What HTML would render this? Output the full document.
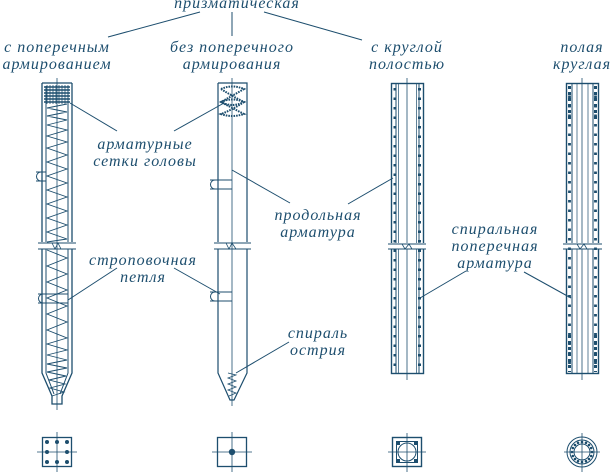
<!DOCTYPE html>
<html><head><meta charset="utf-8"><style>
html,body{margin:0;padding:0;background:#fff;}
svg{display:block;}
text{font-family:"Liberation Serif","DejaVu Serif",serif;font-style:italic;font-size:16px;fill:#1d4e6e;text-anchor:middle;letter-spacing:1px}
</style></head><body>
<svg width="613" height="474" viewBox="0 0 613 474" xmlns="http://www.w3.org/2000/svg">
<g stroke="#1d4e6e" fill="none" stroke-width="1">
<line x1="200" y1="12" x2="108" y2="37"/>
<line x1="232" y1="12" x2="232" y2="36"/>
<line x1="264" y1="12" x2="362" y2="40"/>

<!-- PILE 1 -->
<path d="M42 83 V242 M72 83 V242 M42 249 V373 L52 396 V404 H62 V396 L72 373 V249" stroke-width="1.3"/>
<line x1="42" y1="83" x2="72" y2="83" stroke-width="1.3"/>
<path d="M46 86 V242 M68 86 V242 M46 249 V373 L54 394 M68 249 V373 L60 394"/>
<line x1="57" y1="78" x2="57" y2="410" stroke-width="0.8"/>
<line x1="38" y1="243" x2="76" y2="243"/><line x1="38" y1="249" x2="76" y2="249"/>
<path d="M52 243 L55 249 L58 243 L61 249" stroke-width="0.8"/>
<g stroke-width="1.4">
<line x1="44" y1="87" x2="70" y2="87"/><line x1="44" y1="90" x2="70" y2="90"/><line x1="44" y1="93" x2="70" y2="93"/><line x1="44" y1="96" x2="70" y2="96"/><line x1="44" y1="99" x2="70" y2="99"/><line x1="44" y1="102" x2="70" y2="102"/>
</g>
<g stroke-width="0.8">
<line x1="47" y1="85" x2="47" y2="104"/><line x1="50" y1="85" x2="50" y2="104"/><line x1="53" y1="85" x2="53" y2="104"/><line x1="56" y1="85" x2="56" y2="104"/><line x1="59" y1="85" x2="59" y2="104"/><line x1="62" y1="85" x2="62" y2="104"/><line x1="65" y1="85" x2="65" y2="104"/><line x1="68" y1="85" x2="68" y2="104"/>
</g>
<polyline stroke-width="0.9" points="67,104 47,108 67,112 47,116 67,120 47,125 67,130 47,136 67,142 47,148 67,155 47,162 67,169 47,176 67,183 47,190 67,197 47,204 67,211 47,218 67,225 47,232 67,239 47,242"/>
<polyline stroke-width="0.9" points="47,250 67,258 47,266 67,274 47,282 67,290 47,298 67,306 47,314 67,322 47,330 67,338 47,344 67,350 47,355 67,360 47,364 67,368 47,372 66,376 49,380 65,384 50,388 64,392 52,396"/>
<path d="M36 172 h10 M36 181 h10 M41 172 a4.5 4.5 0 0 0 0 9"/>
<path d="M38 294 h30 M38 303 h30 M43 294 a4.5 4.5 0 0 0 0 9"/>

<!-- PILE 2 -->
<path d="M218 83 H247 V242 M218 83 V242 M218 249 V373 L230 400 H234 L247 373 V249" stroke-width="1.2"/>
<line x1="232" y1="78" x2="232" y2="406" stroke-width="0.8"/>
<line x1="214" y1="243" x2="251" y2="243"/><line x1="214" y1="249" x2="251" y2="249"/>
<path d="M226 243 L229 249 L232 243 L236 249" stroke-width="0.8"/>
<g stroke-dasharray="1.6 1" stroke-width="2">
<path d="M221 89 Q232 84 244 89 Q232 96 221 102 Q232 108 244 102 Q232 96 221 89"/>
<path d="M221 102 Q232 97 244 102 Q232 110 221 114 Q232 118 244 114 Q232 108 221 102" />
</g>
<path d="M210 180 h22 M210 189 h22 M215 180 a4.5 4.5 0 0 0 0 9"/>
<path d="M210 292 h22 M210 301 h22 M215 292 a4.5 4.5 0 0 0 0 9"/>
<polyline stroke-width="0.8" points="228,373 236,375 228,378 236,381 228,384 236,387 228,390 236,393 229,396"/>

<!-- PILE 3 -->
<rect x="391.5" y="83.5" width="32" height="290" stroke-width="1.4"/>
<line x1="396" y1="84" x2="396" y2="373"/><line x1="419" y1="84" x2="419" y2="373"/>
<line x1="398.5" y1="84" x2="398.5" y2="373" stroke-width="0.7"/><line x1="416.5" y1="84" x2="416.5" y2="373" stroke-width="0.7"/>
<line x1="407" y1="78" x2="407" y2="380" stroke-width="0.8"/>
<rect x="386" y="243" width="42" height="6" fill="#fff" stroke="none"/>
<line x1="388" y1="244" x2="426" y2="244"/><line x1="388" y1="249" x2="426" y2="249"/>
<path d="M402 244 L405 249 L409 244 L412 249" stroke-width="0.8"/>
<line x1="395" y1="88" x2="395" y2="370" stroke-dasharray="2.5 7" stroke-width="3"/>
<line x1="419.5" y1="88" x2="419.5" y2="370" stroke-dasharray="2.5 7" stroke-width="3"/>
<!-- PILE 4 -->
<rect x="566.5" y="83.5" width="32" height="290" stroke-width="1.4"/>
<line x1="572" y1="84" x2="572" y2="373"/><line x1="593" y1="84" x2="593" y2="373"/>
<line x1="577" y1="84" x2="577" y2="373" stroke-width="0.7"/><line x1="588" y1="84" x2="588" y2="373" stroke-width="0.7"/>
<line x1="582" y1="78" x2="582" y2="380" stroke-width="0.8"/>
<rect x="561" y="243" width="42" height="6" fill="#fff" stroke="none"/>
<line x1="563" y1="244" x2="602" y2="244"/><line x1="563" y1="249" x2="602" y2="249"/>
<path d="M577 244 L580 249 L584 244 L587 249" stroke-width="0.8"/>
<line x1="569.5" y1="86" x2="569.5" y2="372" stroke-dasharray="2.5 7" stroke-width="2.8"/>
<line x1="595.5" y1="86" x2="595.5" y2="372" stroke-dasharray="2.5 7" stroke-width="2.8"/>
<line x1="569.5" y1="86" x2="569.5" y2="120" stroke-dasharray="3 3" stroke-width="3"/>
<line x1="595.5" y1="86" x2="595.5" y2="120" stroke-dasharray="3 3" stroke-width="3"/>
<line x1="569.5" y1="335" x2="569.5" y2="372" stroke-dasharray="3 3" stroke-width="3"/>
<line x1="595.5" y1="335" x2="595.5" y2="372" stroke-dasharray="3 3" stroke-width="3"/>

<!-- leader lines -->
<line x1="70" y1="103" x2="117" y2="131"/>
<line x1="224" y1="103" x2="174" y2="131"/>
<line x1="232" y1="170" x2="290" y2="203"/>
<line x1="393" y1="178" x2="348" y2="204"/>
<line x1="68" y1="300" x2="117" y2="268"/>
<line x1="220" y1="294" x2="174" y2="268"/>
<line x1="236" y1="373" x2="289" y2="342"/>
<line x1="420" y1="298" x2="466" y2="271"/>
<line x1="571" y1="298" x2="524" y2="272"/>

<!-- sections -->
<rect x="42.5" y="437.5" width="29" height="29" stroke-width="1.3"/>
<line x1="37" y1="452" x2="77" y2="452" stroke-width="0.8"/><line x1="57" y1="432" x2="57" y2="472" stroke-width="0.8"/>
<rect x="217.5" y="437.5" width="29" height="29" stroke-width="1.3"/>
<line x1="212" y1="452" x2="252" y2="452" stroke-width="0.8"/><line x1="232" y1="432" x2="232" y2="472" stroke-width="0.8"/>
<rect x="392.5" y="437.5" width="29" height="29" stroke-width="1.4"/>
<rect x="396.5" y="441.5" width="21" height="21"/>
<circle cx="407" cy="452" r="9"/>
<line x1="388" y1="452" x2="426" y2="452" stroke-width="0.8"/><line x1="407" y1="433" x2="407" y2="472" stroke-width="0.8"/>
<circle cx="582" cy="452" r="15"/><circle cx="582" cy="452" r="12"/><circle cx="582" cy="452" r="8"/>
<line x1="564" y1="452" x2="600" y2="452" stroke-width="0.8"/><line x1="582" y1="433" x2="582" y2="472" stroke-width="0.8"/>
</g>
<g fill="#1d4e6e">
<circle cx="47" cy="442" r="2"/><circle cx="57" cy="442" r="2"/><circle cx="67" cy="442" r="2"/>
<circle cx="47" cy="452" r="2"/><circle cx="67" cy="452" r="2"/>
<circle cx="47" cy="462" r="2"/><circle cx="57" cy="462" r="2"/><circle cx="67" cy="462" r="2"/>
<circle cx="232" cy="452" r="3.2"/>
<rect x="397" y="442" width="3" height="3"/><rect x="414" y="442" width="3" height="3"/><rect x="397" y="459" width="3" height="3"/><rect x="414" y="459" width="3" height="3"/>
<circle cx="582" cy="442" r="1.3"/><circle cx="582" cy="462" r="1.3"/><circle cx="572" cy="452" r="1.3"/><circle cx="592" cy="452" r="1.3"/>
<circle cx="589" cy="445" r="1.3"/><circle cx="575" cy="445" r="1.3"/><circle cx="589" cy="459" r="1.3"/><circle cx="575" cy="459" r="1.3"/>
<circle cx="586" cy="442.8" r="1.3"/><circle cx="578" cy="442.8" r="1.3"/><circle cx="586" cy="461.2" r="1.3"/><circle cx="578" cy="461.2" r="1.3"/>
<circle cx="591.2" cy="448" r="1.3"/><circle cx="572.8" cy="448" r="1.3"/><circle cx="591.2" cy="456" r="1.3"/><circle cx="572.8" cy="456" r="1.3"/>
</g>

<text x="237" y="8">призматическая</text>
<text x="57" y="52">с поперечным</text>
<text x="57" y="69">армированием</text>
<text x="232" y="52">без поперечного</text>
<text x="232" y="69">армирования</text>
<text x="407" y="52">с круглой</text>
<text x="407" y="69">полостью</text>
<text x="582" y="52">полая</text>
<text x="582" y="69">круглая</text>
<text x="145" y="149">арматурные</text>
<text x="145" y="166">сетки головы</text>
<text x="318" y="220">продольная</text>
<text x="318" y="237">арматура</text>
<text x="143" y="265">строповочная</text>
<text x="143" y="282">петля</text>
<text x="495" y="234">спиральная</text>
<text x="495" y="251">поперечная</text>
<text x="495" y="268">арматура</text>
<text x="318" y="338">спираль</text>
<text x="318" y="355">острия</text>
</svg>
</body></html>
